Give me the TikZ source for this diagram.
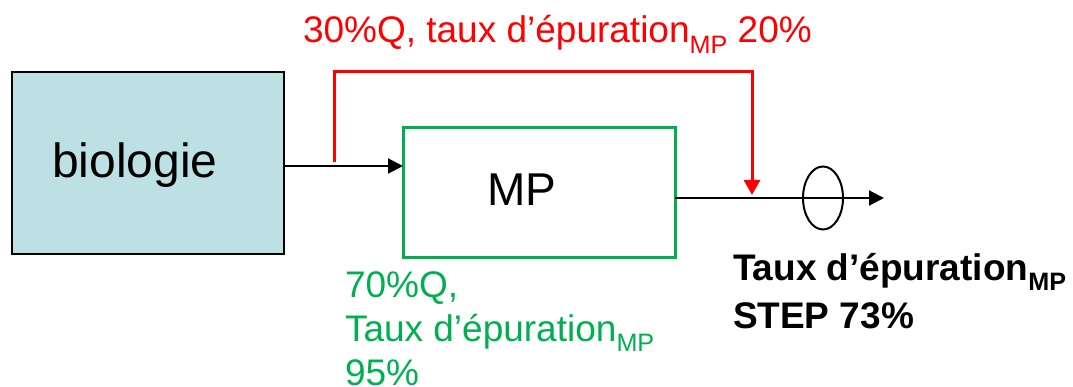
\documentclass[tikz,border=0pt]{standalone}
\usepackage{fontspec}
\setmainfont{Liberation Sans}
\usetikzlibrary{arrows.meta,shapes.geometric,calc}
\definecolor{bioblue}{HTML}{BCE0E4}
\definecolor{mpgreen}{HTML}{00B050}
\definecolor{redline}{HTML}{FF0000}
\newcommand\subMP{\raisebox{-0.28em}{\scalebox{0.68}{MP}}}
\begin{document}
\begin{tikzpicture}[x=1pt,y=-1pt,
  box/.style={draw, inner sep=0pt, outer sep=0pt},
  tip/.style={-{Triangle[length=15pt,width=15pt]}},
  lbl/.style={inner sep=0pt, outer sep=0pt, anchor=base west, align=left}]
\useasboundingbox (0,0) rectangle (1073,387);
% boxes
\node[box, fill=bioblue, line width=2pt, minimum width=272pt, minimum height=182pt, anchor=north west] (bio) at (12,72) {};
\node[lbl, font=\fontsize{48}{50}\selectfont] (biot) at (52,178) {biologie};
\node[box, draw=mpgreen, line width=3pt, minimum width=272pt, minimum height=130pt, anchor=north west] (mp) at (403,128) {};
\node[lbl, font=\fontsize{46}{48}\selectfont] (mpt) at (487,206) {MP};
% output
\node[draw, ellipse, line width=2pt, minimum width=40pt, minimum height=63pt, inner sep=0pt] (ell) at (823,198) {};
\coordinate (end) at (884,198);
\coordinate (split) at (334,166);
\coordinate (merge) at (752,198);
\draw[line width=2pt, tip] (bio.east |- split) -- (mp.west |- split);
\draw[line width=2pt, tip] (mp.east |- end) -- (end);
% bypass
\draw[redline, line width=3pt, -{Triangle[length=15pt,width=16pt]}] ($(split)+(0,-4)$) -- (334,72) -- (752,72) -- ($(merge)+(0,-3)$);
% labels
\node[lbl, text=redline, font=\fontsize{37}{40}\selectfont] (tred) at (303,43) {30\%Q, taux d’épuration\subMP\ 20\%};
\node[lbl, text=mpgreen, font=\fontsize{37}{44}\selectfont] (tgreen) at (345,385) {70\%Q,\\Taux d’épuration\subMP\\95\%};
\node[lbl, font=\bfseries\fontsize{37}{48}\selectfont] (tblack) at (733,328) {Taux d’épuration\subMP\\STEP 73\%};
\end{tikzpicture}
\end{document}
